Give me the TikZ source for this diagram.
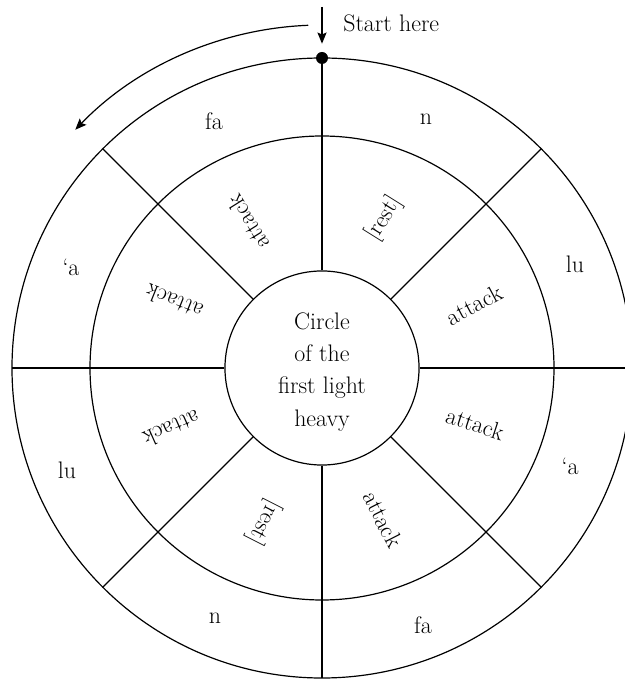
\documentclass[tikz,border=0pt]{standalone}
\usetikzlibrary{arrows.meta}

\tikzset{
  ring/.style={line width=0.85pt},
  dotnode/.style={fill=black,circle,inner sep=0pt,minimum size=0.3cm},
  tip/.style={line width=0.85pt,-{Stealth[length=8pt,width=6.5pt,inset=1.5pt]}},
  lbl/.style={inner sep=0pt}
}

\begin{document}
\begin{tikzpicture}[x=0.025cm,y=0.025cm,font=\fontsize{17}{22.8}\selectfont]
  \useasboundingbox (-322,-313) rectangle (302,368);

  % circulos
  \draw[ring] (0,0) circle (310);
  \draw[ring] (0,0) circle (232);
  \node[ring,draw,circle,inner sep=0pt,minimum size=4.85cm] (hub) at (0,0) {};
  \node[lbl,align=center] (hubtxt) at ([yshift=-0.1cm]hub.center)
    {Circle\\of the\\first light\\heavy};

  % punto de inicio
  \node[dotnode] (start) at (90:310) {};
  \coordinate (s0) at (0,361);
  \draw[tip] (s0) -- ([yshift=0.2cm]start.north);
  \node[lbl,anchor=west] (starttxt) at (21,345) {Start here};
  \draw[tip] (92.3:343) arc[start angle=92.3,end angle=136,radius=343];

  % radios
  \draw[ring] (hub.90) -- (start);
  \draw[ring] (hub.0) -- (0:310);
  \draw[ring] (hub.45) -- (45:310);
  \draw[ring] (hub.135) -- (135:310);
  \draw[ring] (hub.180) -- (180:310);
  \draw[ring] (hub.225) -- (225:310);
  \draw[ring] (hub.270) -- (270:310);
  \draw[ring] (hub.315) -- (315:310);

  % anillo exterior
  \node[lbl] (fa1) at (-108,247) {fa};
  \node[lbl] (n1) at (104,249) {n};
  \node[lbl] (lu1) at (253,104) {lu};
  \node[lbl] (a1) at (-251,101) {`a};
  \node[lbl] (lu2) at (-255,-102) {lu};
  \node[lbl] (a2) at (248,-98) {`a};
  \node[lbl] (n2) at (-107,-250) {n};
  \node[lbl] (fa2) at (101,-257) {fa};

  % anillo medio
  \node[lbl,rotate=28] (m1) at (22.5:165) {attack};
  \node[lbl,rotate=58] (m2) at (67.5:162) {[rest]};
  \node[lbl,rotate=122] (m3) at (117:163) {attack};
  \node[lbl,rotate=158] (m4) at (156:162) {attack};
  \node[lbl,rotate=204] (m5) at (202:162) {attack};
  \node[lbl,rotate=243] (m6) at (249.5:165) {[rest]};
  \node[lbl,rotate=297] (m7) at (292:163) {attack};
  \node[lbl,rotate=342] (m8) at (340:163) {attack};
\end{tikzpicture}
\end{document}
